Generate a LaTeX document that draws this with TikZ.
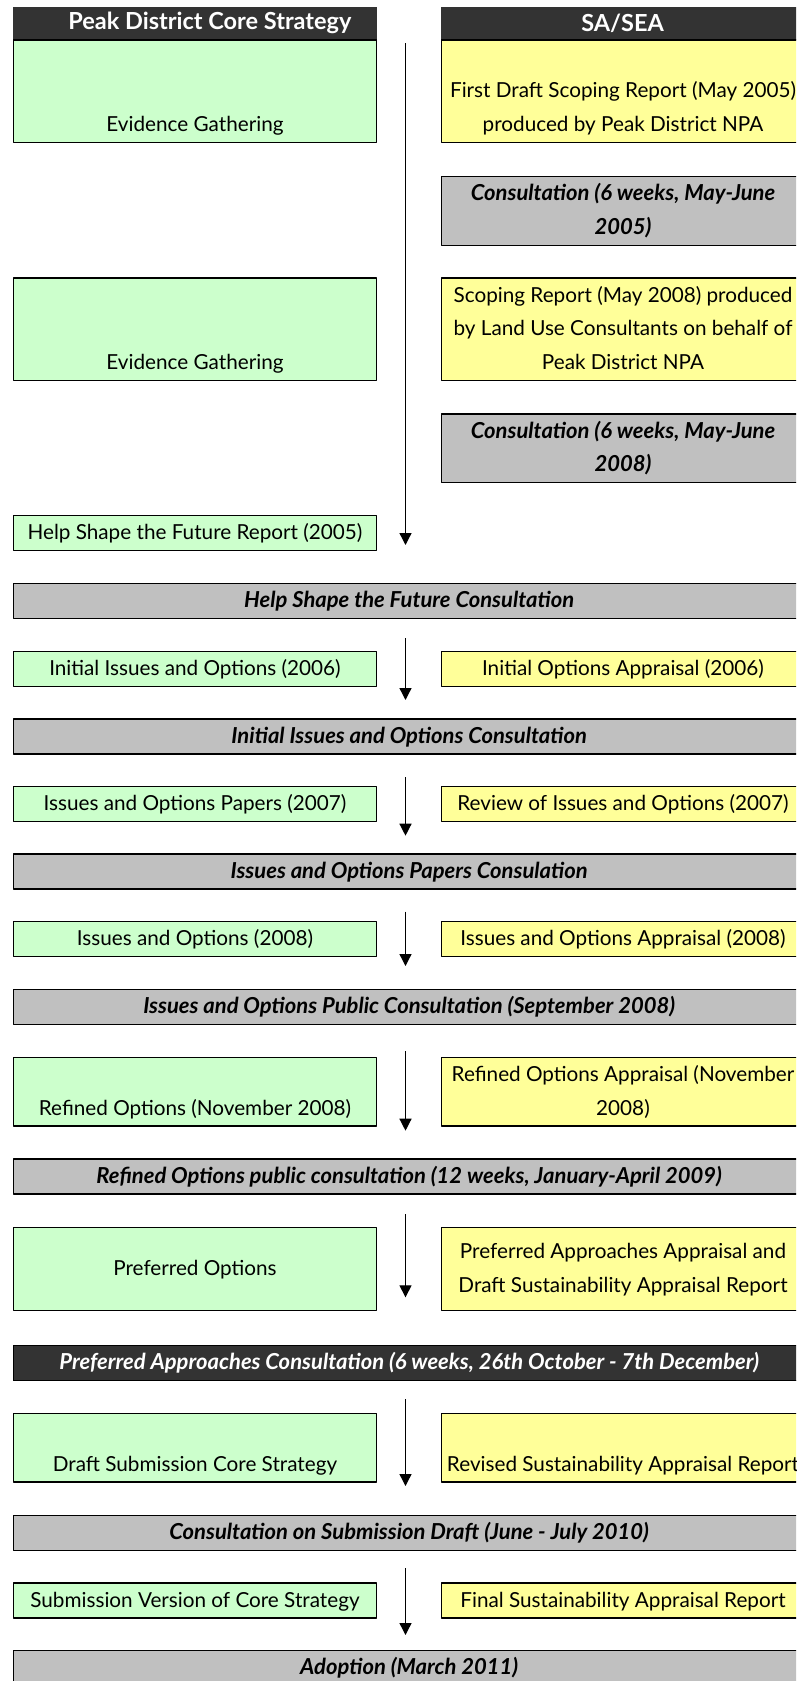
\documentclass[tikz,border=0pt]{standalone}
\usepackage{fontspec}
\setmainfont{Lato}
\usetikzlibrary{arrows.meta}
\definecolor{plangreen}{HTML}{CCFFCC}
\definecolor{sayellow}{HTML}{FFFF99}
\definecolor{consgrey}{HTML}{C0C0C0}
\definecolor{headgrey}{HTML}{333333}
\begin{document}
\begin{tikzpicture}[x=1pt,y=-1pt,line join=round,>={Triangle[length=12pt,width=12pt]},
	box/.style={draw,line width=1.3pt,anchor=north west,minimum width=363.3pt,inner xsep=0pt,inner ysep=0.7pt,align=center,font=\fontsize{20.7}{33.6}\selectfont},
	plan/.style={box,fill=plangreen},sea/.style={box,fill=sayellow},
	cons/.style={box,fill=consgrey,font=\fontsize{22}{33.6}\selectfont\bfseries\itshape},band/.style={cons,minimum width=791.6pt},
	head/.style={anchor=north west,fill=headgrey,text=white,font=\fontsize{23.5}{28}\selectfont\bfseries,minimum width=363.3pt,minimum height=32.6pt,inner sep=0pt}]
	\def\rows#1{\strut#1\strut}
	\def\lx{12.7}\def\rx{440.7}
	\useasboundingbox (0,0) rectangle (796,1681);
	\clip (0,0) rectangle (796,1681);
	\node[head] (hcs) at (13,6.7) {\hspace*{30pt}Peak District Core Strategy};
	\node[head] (hsa) at (\rx,6.7) {SA/SEA};
	\node[plan] (ev1) at (\lx,39.3) {\rows{\\\strut\\Evidence Gathering}};
	\node[sea] (sa1) at (\rx,39.3) {\rows{\\First Draft Scoping Report (May 2005)\\produced by Peak District NPA}};
	\node[cons] (co1) at (\rx,176) {\rows{Consultation (6 weeks, May-June\\2005)}};
	\node[plan] (ev2) at (\lx,277.3) {\rows{\\\strut\\Evidence Gathering}};
	\node[sea] (sa2) at (\rx,277.3) {\rows{Scoping Report (May 2008) produced\\by Land Use Consultants on behalf of\\Peak District NPA}};
	\node[cons] (co2) at (\rx,413.3) {\rows{Consultation (6 weeks, May-June\\2008)}};
	\node[plan] (hsr) at (\lx,515) {\rows{Help Shape the Future Report (2005)}};
	\node[band] (b1) at (\lx,582.7) {\rows{Help Shape the Future Consultation}};
	\node[plan] (iio) at (\lx,650.7) {\rows{Initial Issues and Options (2006)}};
	\node[sea] (ioa) at (\rx,650.7) {\rows{Initial Options Appraisal (2006)}};
	\node[band] (b2) at (\lx,718.3) {\rows{Initial Issues and Options Consultation}};
	\node[plan] (iop) at (\lx,786) {\rows{Issues and Options Papers (2007)}};
	\node[sea] (rio) at (\rx,786) {\rows{Review of Issues and Options (2007)}};
	\node[band] (b3) at (\lx,853.3) {\rows{Issues and Options Papers Consulation}};
	\node[plan] (io8) at (\lx,921) {\rows{Issues and Options (2008)}};
	\node[sea] (ia8) at (\rx,921) {\rows{Issues and Options Appraisal (2008)}};
	\node[band] (b4) at (\lx,989) {\rows{Issues and Options Public Consultation (September 2008)}};
	\node[plan] (ro) at (\lx,1056.7) {\rows{\\Refined Options (November 2008)}};
	\node[sea] (roa) at (\rx,1056.7) {\rows{Refined Options Appraisal (November\\2008)}};
	\node[band] (b5) at (\lx,1158.3) {\rows{Refined Options public consultation (12 weeks, January-April 2009)}};
	\node[plan,minimum height=83pt] (po) at (\lx,1226.7) {\rows{Preferred Options}};
	\node[sea,minimum height=83pt] (paa) at (\rx,1226.7) {\rows{Preferred Approaches Appraisal and\\Draft Sustainability Appraisal Report}};
	\node[band,fill=headgrey,text=white] (b6) at (\lx,1345) {\rows{Preferred Approaches Consultation (6 weeks, 26th October - 7th December)}};
	\node[plan] (dsc) at (\lx,1412.7) {\rows{\\Draft Submission Core Strategy}};
	\node[sea] (rsa) at (\rx,1412.7) {\rows{\\Revised Sustainability Appraisal Report}};
	\node[band] (b7) at (\lx,1515) {\rows{Consultation on Submission Draft (June - July 2010)}};
	\node[plan] (svc) at (\lx,1582.3) {\rows{Submission Version of Core Strategy}};
	\node[sea] (fsa) at (\rx,1582.3) {\rows{Final Sustainability Appraisal Report}};
	\node[band] (b8) at (\lx,1650) {\rows{Adoption (March 2011)}};
	\foreach \ys/\ye [count=\i] in {43/545,638/700,777/835.7,911.7/966,1051/1130.7,1214/1297.3,1399.3/1486,1568.3/1635}{
		\coordinate (s\i) at (405.5,\ys); \coordinate (e\i) at (405.5,\ye);
		\draw[->,line width=1.3pt] (s\i) -- (e\i);}
\end{tikzpicture}
\end{document}
